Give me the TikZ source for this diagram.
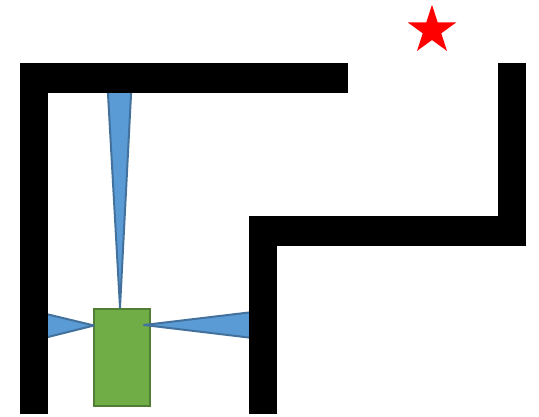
\documentclass[tikz,border=0pt]{standalone}
\usetikzlibrary{shapes.geometric}
\definecolor{beamfill}{HTML}{5B9BD5}
\definecolor{beamedge}{HTML}{41719C}
\definecolor{robotfill}{HTML}{70AD47}
\definecolor{robotedge}{HTML}{507E32}
\tikzset{
  wall/.style={fill=black, draw=none},
  beam/.style={fill=beamfill, draw=beamedge, line width=2pt, line join=round},
  robotbox/.style={rectangle, fill=robotfill, draw=robotedge, line width=2pt,
    minimum width=56pt, minimum height=97pt, inner sep=0pt},
  goal/.style={star, star points=5, star point ratio=2.618, minimum size=51pt,
    inner sep=0pt, fill=red, draw=none}
}
\begin{document}
\begin{tikzpicture}[x=1pt, y=-1pt]
  \useasboundingbox (0,0) rectangle (539,416);

  % robot and goal
  \node[robotbox] (robot) at (121.5,357.3) {};
  \node[goal] (target) at (432,30.3) {};

  % sensor beams
  \coordinate (topapex) at (120,307.5);
  \coordinate (leftapex) at (94,325.5);
  \coordinate (rightapex) at (144,325);
  \draw[beam] (topapex) -- (107.5,85) -- (131.5,85) -- cycle;
  \draw[beam] (leftapex) -- (40,312.5) -- (40,339) -- cycle;
  \draw[beam] (rightapex) -- (257,311.5) -- (257,338.5) -- cycle;

  % maze walls
  \fill[wall] (20,63) rectangle (348,93);
  \fill[wall] (20,63) rectangle (48,414);
  \fill[wall] (498,63) rectangle (526,246);
  \fill[wall] (249,216) rectangle (526,246);
  \fill[wall] (249,216) rectangle (277,414);
\end{tikzpicture}
\end{document}
